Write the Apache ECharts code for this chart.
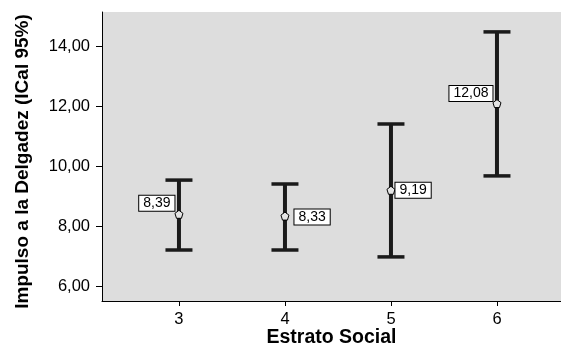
<!DOCTYPE html>
<html>
<head>
<meta charset="utf-8">
<script src="https://cdn.jsdelivr.net/npm/echarts@6/dist/echarts.min.js"></script>
<style>
html,body{margin:0;padding:0;background:#fff;overflow:hidden;}
#c{width:561px;height:347px;}
</style>
</head>
<body>
<div id="c"></div>
<script>
const categories = [3, 4, 5, 6];
const means = [8.39, 8.33, 9.19, 12.08];
const lower = [7.20, 7.20, 6.97, 9.67];
const upper = [9.53, 9.40, 11.40, 14.47];
const yTicks = [6, 8, 10, 12, 14];

const fmt = v => v.toFixed(2).replace('.', ',');

const labelCfg = [
  {position: 'left', distance: 0, offset: [0, -11]},
  {position: 'right', distance: 5, offset: [0, 1]},
  {position: 'right', distance: 0, offset: [0, 0]},
  {position: 'left', distance: 0, offset: [0, -10]}
];

const chart = echarts.init(document.getElementById('c'), null, {renderer: 'canvas'});
const FONT = 'Liberation Sans, Arial, sans-serif';

chart.setOption({
  animation: false,
  backgroundColor: '#ffffff',
  grid: {left: 102, top: 12, right: 0, bottom: 46, containLabel: false, outerBoundsMode: 'none',
         show: true, backgroundColor: '#dddddd', borderWidth: 0},
  xAxis: {
    type: 'value', min: 2.274, max: 6.604,
    name: 'Estrato Social', nameLocation: 'middle', nameGap: 27, nameMoveOverlap: false,
    nameTextStyle: {fontFamily: FONT, fontSize: 19.5, fontWeight: 'bold', color: '#000'},
    axisLine: {show: true, lineStyle: {color: '#000', width: 1}},
    axisTick: {show: true, length: 5, lineStyle: {color: '#000'}, customValues: categories},
    axisLabel: {fontFamily: FONT, fontSize: 16.5, color: '#000', margin: 10, customValues: categories, formatter: v => String(v)},
    splitLine: {show: false}
  },
  yAxis: {
    type: 'value', min: 5.5, max: 15.133,
    name: 'Impulso a la Delgadez (ICal 95%)', nameLocation: 'middle', nameGap: 70, nameMoveOverlap: false,
    nameTextStyle: {fontFamily: FONT, fontSize: 19, fontWeight: 'bold', color: '#000', padding: [0, 10, 0, 0]},
    axisLine: {show: true, lineStyle: {color: '#000', width: 1}},
    axisTick: {show: true, length: 6, lineStyle: {color: '#000'}, customValues: yTicks},
    axisLabel: {fontFamily: FONT, fontSize: 16.5, color: '#000', margin: 12, customValues: yTicks, formatter: v => fmt(v)},
    splitLine: {show: false}
  },
  series: [
    {
      type: 'custom',
      data: categories.map((c, i) => [c, lower[i], upper[i]]),
      renderItem: (params, api) => {
        const x = api.value(0);
        const lo = api.coord([x, api.value(1)]);
        const hi = api.coord([x, api.value(2)]);
        const half = 13.5;
        const style = {stroke: '#1a1a1a', lineWidth: 4};
        const cap = {stroke: '#1a1a1a', lineWidth: 3.5};
        return {
          type: 'group',
          children: [
            {type: 'line', shape: {x1: lo[0], y1: lo[1], x2: hi[0], y2: hi[1]}, style: style},
            {type: 'line', shape: {x1: hi[0] - half, y1: hi[1], x2: hi[0] + half, y2: hi[1]}, style: cap},
            {type: 'line', shape: {x1: lo[0] - half, y1: lo[1], x2: lo[0] + half, y2: lo[1]}, style: cap}
          ]
        };
      },
      z: 2
    },
    {
      type: 'scatter',
      symbol: 'path://M5,0 L10,3.8 L8.1,10 L1.9,10 L0,3.8 Z',
      symbolSize: 8,
      itemStyle: {color: '#e4e4e4', borderColor: '#000', borderWidth: 1, opacity: 1},
      data: categories.map((c, i) => ({
        value: [c, means[i]],
        label: Object.assign({show: true}, labelCfg[i])
      })),
      label: {
        show: true,
        formatter: p => fmt(p.value[1]),
        fontFamily: FONT, fontSize: 14, lineHeight: 13, color: '#000', opacity: 1,
        textBorderWidth: 0,
        backgroundColor: '#ffffff', borderColor: '#000', borderWidth: 1,
        padding: [1, 4, 1, 4]
      },
      z: 3
    }
  ]
});
</script>
</body>
</html>
